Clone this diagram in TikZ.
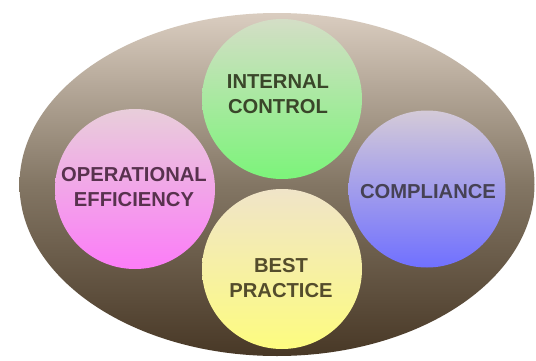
\documentclass[tikz,border=0pt]{standalone}
\usepackage{fontspec}
\setmainfont{Liberation Sans}
\usetikzlibrary{shapes.geometric}
\definecolor{elltop}{HTML}{DACDC0}
\definecolor{ellmid}{HTML}{837664}
\definecolor{ellbot}{HTML}{483826}
\begin{document}
\begin{tikzpicture}[x=1pt,y=1pt,
  bubble/.style={circle,minimum size=160pt,inner sep=0pt,draw=none},
  label/.style={align=center,font=\fontsize{20.2}{25}\selectfont\bfseries},
  ]
\useasboundingbox (0,0) rectangle (536,360);
\fill[white] (0,0) rectangle (536,360);
\node[ellipse,minimum width=515pt,minimum height=343pt,inner sep=0pt,
  top color=elltop,bottom color=ellbot,middle color=ellmid,draw=none] (base) at (277,175.5) {};
\node[bubble,top color={rgb,255:red,212;green,222;blue,198},bottom color={rgb,255:red,124;green,244;blue,122}] (ic) at (282,261) {};
\node[label,text={rgb,255:red,58;green,70;blue,42}] (ict) at (278,265.5) {INTERNAL\\CONTROL};
\node[bubble,top color={rgb,255:red,232;green,206;blue,218},bottom color={rgb,255:red,252;green,124;blue,248}] (oe) at (135,171) {};
\node[label,text={rgb,255:red,88;green,50;blue,78}] (oet) at (134,172.5) {OPERATIONAL\\EFFICIENCY};
\node[bubble,minimum size=157pt,top color={rgb,255:red,212;green,202;blue,216},bottom color={rgb,255:red,112;green,112;blue,255}] (co) at (427,171) {};
\node[label,text={rgb,255:red,70;green,66;blue,84}] (cot) at (428,168) {COMPLIANCE};
\node[bubble,top color={rgb,255:red,240;green,228;blue,200},bottom color={rgb,255:red,253;green,252;blue,128}] (bp) at (282,91) {};
\node[label,text={rgb,255:red,84;green,76;blue,44}] (bpt) at (281,82) {BEST\\PRACTICE};
\end{tikzpicture}
\end{document}
